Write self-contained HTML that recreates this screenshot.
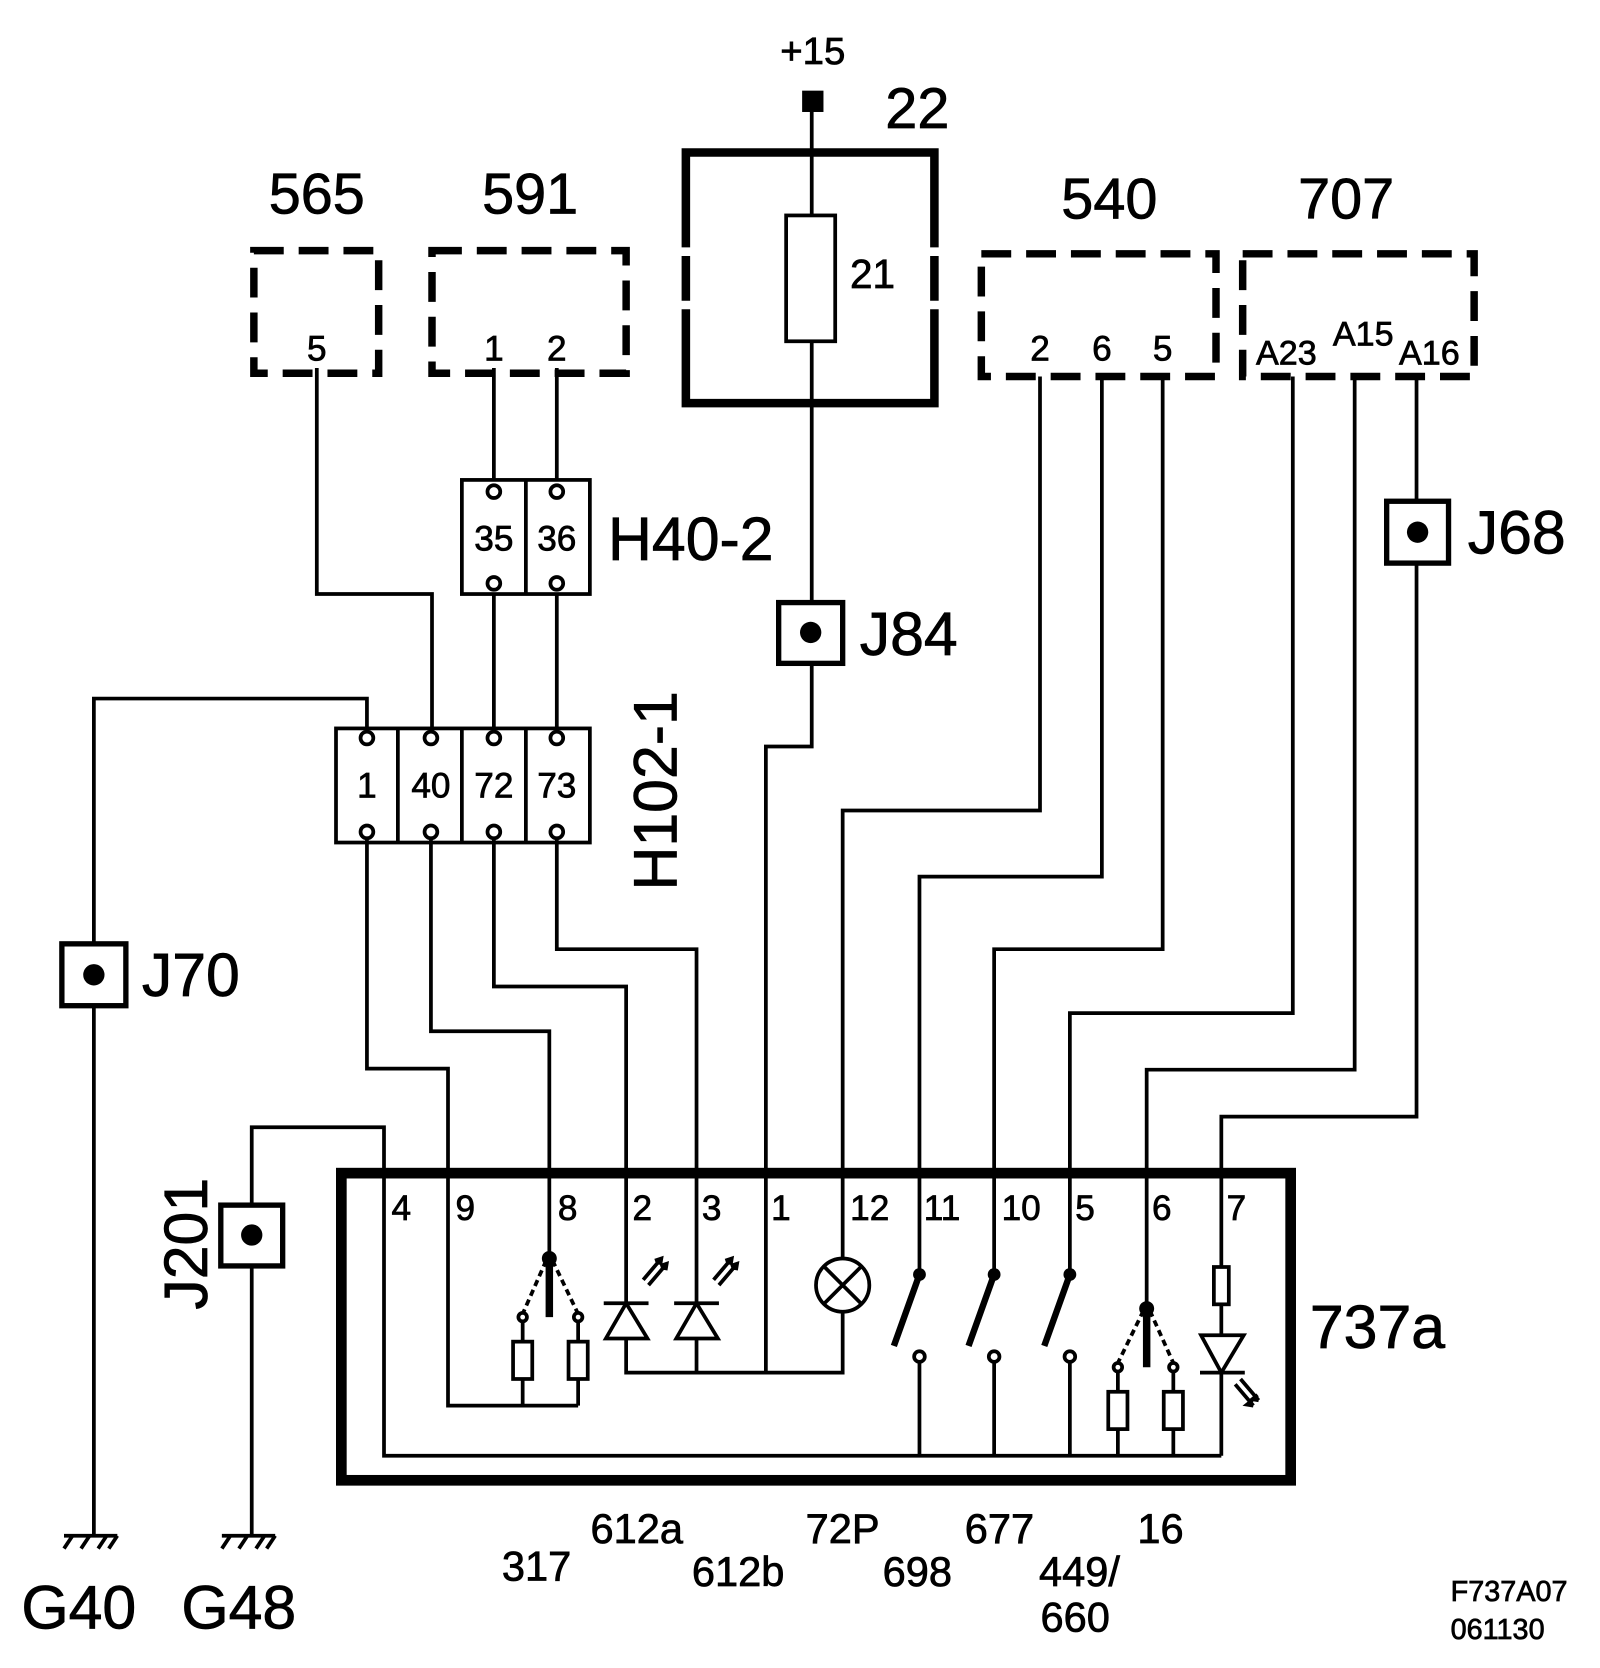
<!DOCTYPE html>
<html><head><meta charset="utf-8"><style>html,body{margin:0;padding:0;background:#fff}svg{display:block}text{font-family:"Liberation Sans",Arial,sans-serif;fill:#000;stroke:#000;stroke-width:0.7}</style></head>
<body>
<svg width="1600" height="1668" viewBox="0 0 1500 1564" preserveAspectRatio="none" xmlns="http://www.w3.org/2000/svg">
<g fill="none" stroke="#000" stroke-width="3.5">
<rect x="752" y="85" width="20" height="20" fill="#000" stroke="none"/>
<polyline points="761,95 761,700 718,700 718,1287"/>
<path d="M643,232 V143 H876 V232 M876,290 V378 H643 V290" stroke-width="8"/>
<path d="M643,240 V282 M876,240 V282" stroke-width="8"/>
<rect x="737" y="202" width="46" height="118" fill="#fff"/>
<g stroke-width="7" stroke-dasharray="28,14">
<rect x="238" y="235" width="117" height="115"/>
<rect x="405" y="235" width="182" height="115"/>
<rect x="920" y="238" width="220" height="115"/>
<rect x="1165" y="238" width="217" height="115"/>
</g>
<polyline points="297,345 297,557 405,557 405,685"/>
<line x1="463" y1="345" x2="463" y2="450"/><line x1="522" y1="345" x2="522" y2="450"/>
<line x1="463" y1="557" x2="463" y2="683"/><line x1="522" y1="557" x2="522" y2="683"/>
<rect x="433" y="450" width="120" height="107"/><line x1="493" y1="450" x2="493" y2="557"/>
<rect x="315" y="683" width="238" height="107"/>
<line x1="373" y1="683" x2="373" y2="790"/><line x1="433" y1="683" x2="433" y2="790"/><line x1="493" y1="683" x2="493" y2="790"/>
<g fill="#fff">
<circle cx="463" cy="461" r="6"/><circle cx="522" cy="461" r="6"/><circle cx="463" cy="547" r="6"/><circle cx="522" cy="547" r="6"/>
<circle cx="344" cy="692" r="6"/><circle cx="404" cy="692" r="6"/><circle cx="463" cy="692" r="6"/><circle cx="522" cy="692" r="6"/>
<circle cx="344" cy="780" r="6"/><circle cx="404" cy="780" r="6"/><circle cx="463" cy="780" r="6"/><circle cx="522" cy="780" r="6"/>
</g>
<polyline points="344,686 344,655 88,655 88,1440"/>
<polyline points="344,786 344,1002 420,1002 420,1318 542,1318"/>
<polyline points="404,786 404,967 515,967 515,1180"/>
<polyline points="463,786 463,925 587,925 587,1222"/>
<polyline points="522,786 522,890 653,890 653,1222"/>
<polyline points="975,353 975,760 790,760 790,1180"/>
<polyline points="1033,353 1033,822 862,822 862,1195"/>
<polyline points="1090,353 1090,890 932,890 932,1195"/>
<polyline points="1212,353 1212,950 1003,950 1003,1195"/>
<polyline points="1270,353 1270,1003 1075,1003 1075,1227"/>
<polyline points="1328,353 1328,1047 1145,1047 1145,1188"/>
<polyline points="236,1440 236,1057 360,1057 360,1365 1145,1365"/>
<rect x="58" y="885" width="60" height="58" fill="#fff" stroke-width="5"/>
<rect x="730" y="565" width="60" height="57" fill="#fff" stroke-width="5"/>
<rect x="1300" y="470" width="58" height="58" fill="#fff" stroke-width="5"/>
<rect x="207" y="1130" width="58" height="57" fill="#fff" stroke-width="5"/>
<line x1="60" y1="1440" x2="110" y2="1440"/><path d="M68,1440 l-8,12 M84,1440 l-8,12 M100,1440 l-8,12 M110,1440 l-8,12"/>
<line x1="208" y1="1440" x2="258" y2="1440"/><path d="M216,1440 l-8,12 M232,1440 l-8,12 M248,1440 l-8,12 M258,1440 l-8,12"/>
<rect x="320" y="1100" width="890" height="288" stroke-width="10"/>
<line x1="515" y1="1180" x2="515" y2="1235" stroke-width="7"/>
<path d="M512,1182 L490,1232 M518,1182 L542,1232" stroke-dasharray="6,4"/>
<line x1="490" y1="1238" x2="490" y2="1318"/><line x1="542" y1="1238" x2="542" y2="1318"/>
<rect x="481" y="1258" width="18" height="35" fill="#fff"/><rect x="533" y="1258" width="18" height="35" fill="#fff"/>
<circle cx="490" cy="1235" r="4" fill="#fff"/><circle cx="542" cy="1235" r="4" fill="#fff"/>
<line x1="566" y1="1222" x2="608" y2="1222"/><path d="M587,1222 L568,1255 H607 Z" fill="#fff"/>
<line x1="632" y1="1222" x2="674" y2="1222"/><path d="M653,1222 L634,1255 H673 Z" fill="#fff"/>
<polyline points="587,1255 587,1287 790,1287 790,1230"/><line x1="653" y1="1255" x2="653" y2="1287"/>
<path d="M603,1200 L620,1180 M608,1205 L625,1185 M614,1182 l6,-2 -1,6 M619,1187 l6,-2 -1,6"/>
<path d="M669,1200 L686,1180 M674,1205 L691,1185 M680,1182 l6,-2 -1,6 M685,1187 l6,-2 -1,6"/>
<circle cx="790" cy="1205" r="25" fill="#fff"/><path d="M772,1187 L808,1223 M808,1187 L772,1223"/>
<path d="M862,1195 L838,1262 M932,1195 L908,1262 M1003,1195 L979,1262" stroke-width="6"/>
<line x1="862" y1="1277" x2="862" y2="1365"/><line x1="932" y1="1277" x2="932" y2="1365"/><line x1="1003" y1="1277" x2="1003" y2="1365"/>
<circle cx="862" cy="1272" r="5" fill="#fff"/><circle cx="932" cy="1272" r="5" fill="#fff"/><circle cx="1003" cy="1272" r="5" fill="#fff"/>
<line x1="1075" y1="1227" x2="1075" y2="1282" stroke-width="7"/>
<path d="M1072,1229 L1048,1278 M1078,1229 L1100,1278" stroke-dasharray="6,4"/>
<line x1="1048" y1="1286" x2="1048" y2="1365"/><line x1="1100" y1="1286" x2="1100" y2="1365"/>
<rect x="1039" y="1305" width="18" height="35" fill="#fff"/><rect x="1091" y="1305" width="18" height="35" fill="#fff"/>
<circle cx="1048" cy="1282" r="4" fill="#fff"/><circle cx="1100" cy="1282" r="4" fill="#fff"/>
<line x1="1145" y1="1188" x2="1145" y2="1365"/>
<rect x="1138" y="1188" width="14" height="35" fill="#fff"/>
<path d="M1126,1252 H1166 L1145,1287 Z" fill="#fff"/><line x1="1125" y1="1287" x2="1167" y2="1287"/>
<path d="M1158,1298 L1175,1318 M1163,1293 L1180,1313 M1175,1318 l-6,-1 5,-4 M1180,1313 l-6,-1 5,-4"/>
</g>
<g fill="#000">
<circle cx="88" cy="914" r="10"/><circle cx="760" cy="593" r="10"/><circle cx="1329" cy="499" r="10"/><circle cx="236" cy="1158" r="10"/>
<circle cx="515" cy="1180" r="7"/><circle cx="1075" cy="1227" r="7"/>
<circle cx="862" cy="1195" r="6"/><circle cx="932" cy="1195" r="6"/><circle cx="1003" cy="1195" r="6"/>
</g>
<g text-anchor="middle">
<text x="762" y="60" font-size="36">+15</text>
<text x="860" y="120" font-size="54">22</text>
<text x="818" y="270" font-size="38">21</text>
<text x="297" y="200" font-size="54">565</text>
<text x="497" y="200" font-size="54">591</text>
<text x="1040" y="205" font-size="54">540</text>
<text x="1262" y="205" font-size="54">707</text>
<text x="297" y="338" font-size="33">5</text>
<text x="463" y="338" font-size="33">1</text><text x="522" y="338" font-size="33">2</text>
<text x="975" y="338" font-size="33">2</text><text x="1033" y="338" font-size="33">6</text><text x="1090" y="338" font-size="33">5</text>
<text x="1206" y="342" font-size="32">A23</text><text x="1278" y="324" font-size="32">A15</text><text x="1340" y="342" font-size="32">A16</text>
<text x="463" y="516" font-size="33">35</text><text x="522" y="516" font-size="33">36</text>
<text x="344" y="748" font-size="33">1</text><text x="404" y="748" font-size="33">40</text><text x="463" y="748" font-size="33">72</text><text x="522" y="748" font-size="33">73</text>
</g>
<g font-size="57">
<text x="570" y="525">H40-2</text>
<text x="806" y="614">J84</text>
<text x="1376" y="519">J68</text>
<text x="133" y="934">J70</text>
<text x="1228" y="1264">737a</text>
<text x="20" y="1527">G40</text>
<text x="170" y="1527">G48</text>
<text transform="translate(634,835) rotate(-90)">H102-1</text>
<text transform="translate(194,1228) rotate(-90)">J201</text>
</g>
<g font-size="33">
<text x="367" y="1144">4</text><text x="427" y="1144">9</text><text x="523" y="1144">8</text><text x="593" y="1144">2</text><text x="658" y="1144">3</text><text x="723" y="1144">1</text><text x="797" y="1144">12</text><text x="866" y="1144">11</text><text x="939" y="1144">10</text><text x="1008" y="1144">5</text><text x="1080" y="1144">6</text><text x="1150" y="1144">7</text>
</g>
<g font-size="39" text-anchor="middle">
<text x="503" y="1482">317</text><text x="597" y="1447">612a</text><text x="692" y="1487">612b</text><text x="790" y="1447">72P</text><text x="860" y="1487">698</text><text x="937" y="1447">677</text><text x="1012" y="1487">449/</text><text x="1008" y="1530">660</text><text x="1088" y="1447">16</text>
</g>
<text x="1360" y="1501" font-size="27">F737A07</text>
<text x="1360" y="1537" font-size="27">061130</text>
</svg>
</body></html>
